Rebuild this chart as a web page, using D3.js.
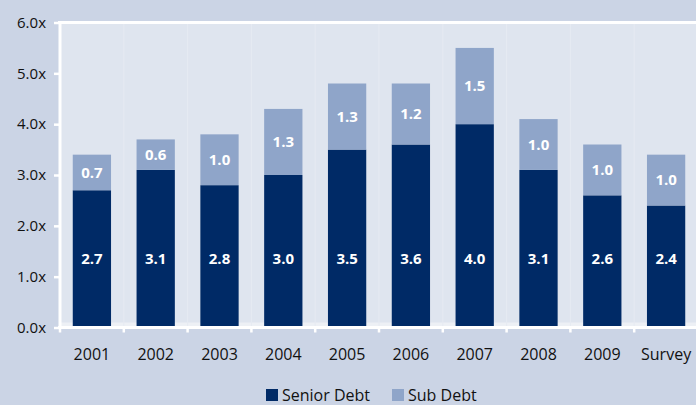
<!DOCTYPE html>
<html>
<head>
<meta charset="utf-8">
<script src="https://cdn.jsdelivr.net/npm/d3@7"></script>
<style>
  body { margin: 0; background: #cbd4e5; }
  text { font-family: "Open Sans", sans-serif; }
</style>
</head>
<body>
<div id="chart"></div>
<script>
// chart data
const categories = ["2001", "2002", "2003", "2004", "2005", "2006", "2007", "2008", "2009", "Survey"];
const seniorDebt = [2.7, 3.1, 2.8, 3.0, 3.5, 3.6, 4.0, 3.1, 2.6, 2.4];
const subDebt = [0.7, 0.6, 1.0, 1.3, 1.3, 1.2, 1.5, 1.0, 1.0, 1.0];
const yTicks = [0, 1, 2, 3, 4, 5, 6];
const seriesNames = ["Senior Debt", "Sub Debt"];
const colors = ["#002a66", "#8fa5c9"];

let width = 696, height = 405;
let margin = {top: 22.5, right: -2, bottom: 77.5, left: 60};

let svg = d3.select("#chart")
  .append("svg")
  .attr("width", width)
  .attr("height", height);

svg.append("rect")
  .attr("width", width).attr("height", height)
  .attr("fill", "#cbd4e5");

let x = d3.scaleBand()
  .domain(categories)
  .range([margin.left, width - margin.right])
  .paddingInner(0.4)
  .paddingOuter(0.2);

let y = d3.scaleLinear()
  .domain([0, 6])
  .range([height - margin.bottom, margin.top]);

// plot area
svg.append("rect")
  .attr("x", margin.left)
  .attr("y", y(6))
  .attr("width", width - margin.left)
  .attr("height", y(0) - y(6))
  .attr("fill", "#dfe5ef");

// faint light strip above the baseline
svg.append("rect")
  .attr("x", margin.left)
  .attr("y", y(0) - 5)
  .attr("width", width - margin.left)
  .attr("height", 5)
  .attr("fill", "#edf0f5");

// faint band separators
let step = x.step();
svg.append("g")
  .selectAll("line")
  .data(categories.slice(1))
  .enter()
  .append("line")
  .attr("x1", d => x(d) - step * 0.2)
  .attr("x2", d => x(d) - step * 0.2)
  .attr("y1", y(6))
  .attr("y2", y(0))
  .attr("stroke", "#e6eaf2")
  .attr("stroke-width", 1);

// stacked bars
const rows = categories.map((c, i) => ({cat: c, senior: seniorDebt[i], sub: subDebt[i]}));
const stack = d3.stack().keys(["senior", "sub"])(rows);

svg.append("g")
  .selectAll("g")
  .data(stack)
  .enter()
  .append("g")
  .attr("fill", (d, i) => colors[i])
  .selectAll("rect")
  .data(d => d)
  .enter()
  .append("rect")
  .attr("x", d => x(d.data.cat))
  .attr("width", x.bandwidth())
  .attr("y", d => y(d[1]))
  .attr("height", d => y(d[0]) - y(d[1]));

// value labels
svg.append("g")
  .selectAll("text")
  .data(rows)
  .enter()
  .append("text")
  .attr("x", d => x(d.cat) + x.bandwidth() / 2)
  .attr("y", 264)
  .attr("text-anchor", "middle")
  .attr("fill", "#ffffff")
  .attr("font-size", "15px")
  .attr("font-weight", "bold")
  .text(d => d.senior.toFixed(1));

svg.append("g")
  .selectAll("text")
  .data(rows)
  .enter()
  .append("text")
  .attr("x", d => x(d.cat) + x.bandwidth() / 2)
  .attr("y", d => y(d.senior + d.sub / 2))
  .attr("dy", "0.36em")
  .attr("text-anchor", "middle")
  .attr("fill", "#ffffff")
  .attr("font-size", "15px")
  .attr("font-weight", "bold")
  .text(d => d.sub.toFixed(1));

// y axis
let yAxis = svg.append("g")
  .attr("transform", "translate(" + margin.left + ",0)")
  .call(d3.axisLeft(y).tickValues(yTicks).tickFormat(d => d.toFixed(1) + "x").tickSize(5).tickPadding(9));
yAxis.select(".domain").remove();
yAxis.selectAll("line").attr("stroke", "#ffffff").attr("stroke-width", 2.5).attr("transform", "translate(-1,0)");
yAxis.selectAll("text").attr("fill", "#111111").attr("font-size", "15px").style("font-family", "'Open Sans', sans-serif");

// white frame lines
svg.append("line")
  .attr("x1", margin.left).attr("x2", margin.left)
  .attr("y1", y(6) - 1.5).attr("y2", y(0) + 1.5)
  .attr("stroke", "#ffffff").attr("stroke-width", 3);
svg.append("line")
  .attr("x1", margin.left - 2).attr("x2", width)
  .attr("y1", y(6)).attr("y2", y(6))
  .attr("stroke", "#ffffff").attr("stroke-width", 3);

// x axis
let xAxis = svg.append("g")
  .attr("transform", "translate(0," + y(0) + ")")
  .call(d3.axisBottom(x).tickSize(0).tickPadding(21));
xAxis.select(".domain").remove();
xAxis.selectAll("text").attr("fill", "#111111").attr("font-size", "16px").style("font-family", "'Open Sans', sans-serif");

svg.append("g")
  .selectAll("line")
  .data(categories)
  .enter()
  .append("line")
  .attr("x1", d => x(d) - step * 0.2)
  .attr("x2", d => x(d) - step * 0.2)
  .attr("y1", y(0))
  .attr("y2", y(0) + 5)
  .attr("stroke", "#ffffff")
  .attr("stroke-width", 2.5);

svg.append("line")
  .attr("x1", margin.left - 2).attr("x2", width)
  .attr("y1", y(0)).attr("y2", y(0))
  .attr("stroke", "#ffffff").attr("stroke-width", 3);

// legend
let legendX = [266, 392];
let legend = svg.append("g")
  .selectAll("g")
  .data(seriesNames)
  .enter()
  .append("g")
  .attr("transform", (d, i) => "translate(" + legendX[i] + ",389)");

legend.append("rect")
  .attr("width", 12).attr("height", 12)
  .attr("fill", (d, i) => colors[i]);

legend.append("text")
  .attr("x", 16)
  .attr("y", 12)
  .attr("fill", "#111111")
  .attr("font-size", "16px")
  .text(d => d);
</script>
</body>
</html>
